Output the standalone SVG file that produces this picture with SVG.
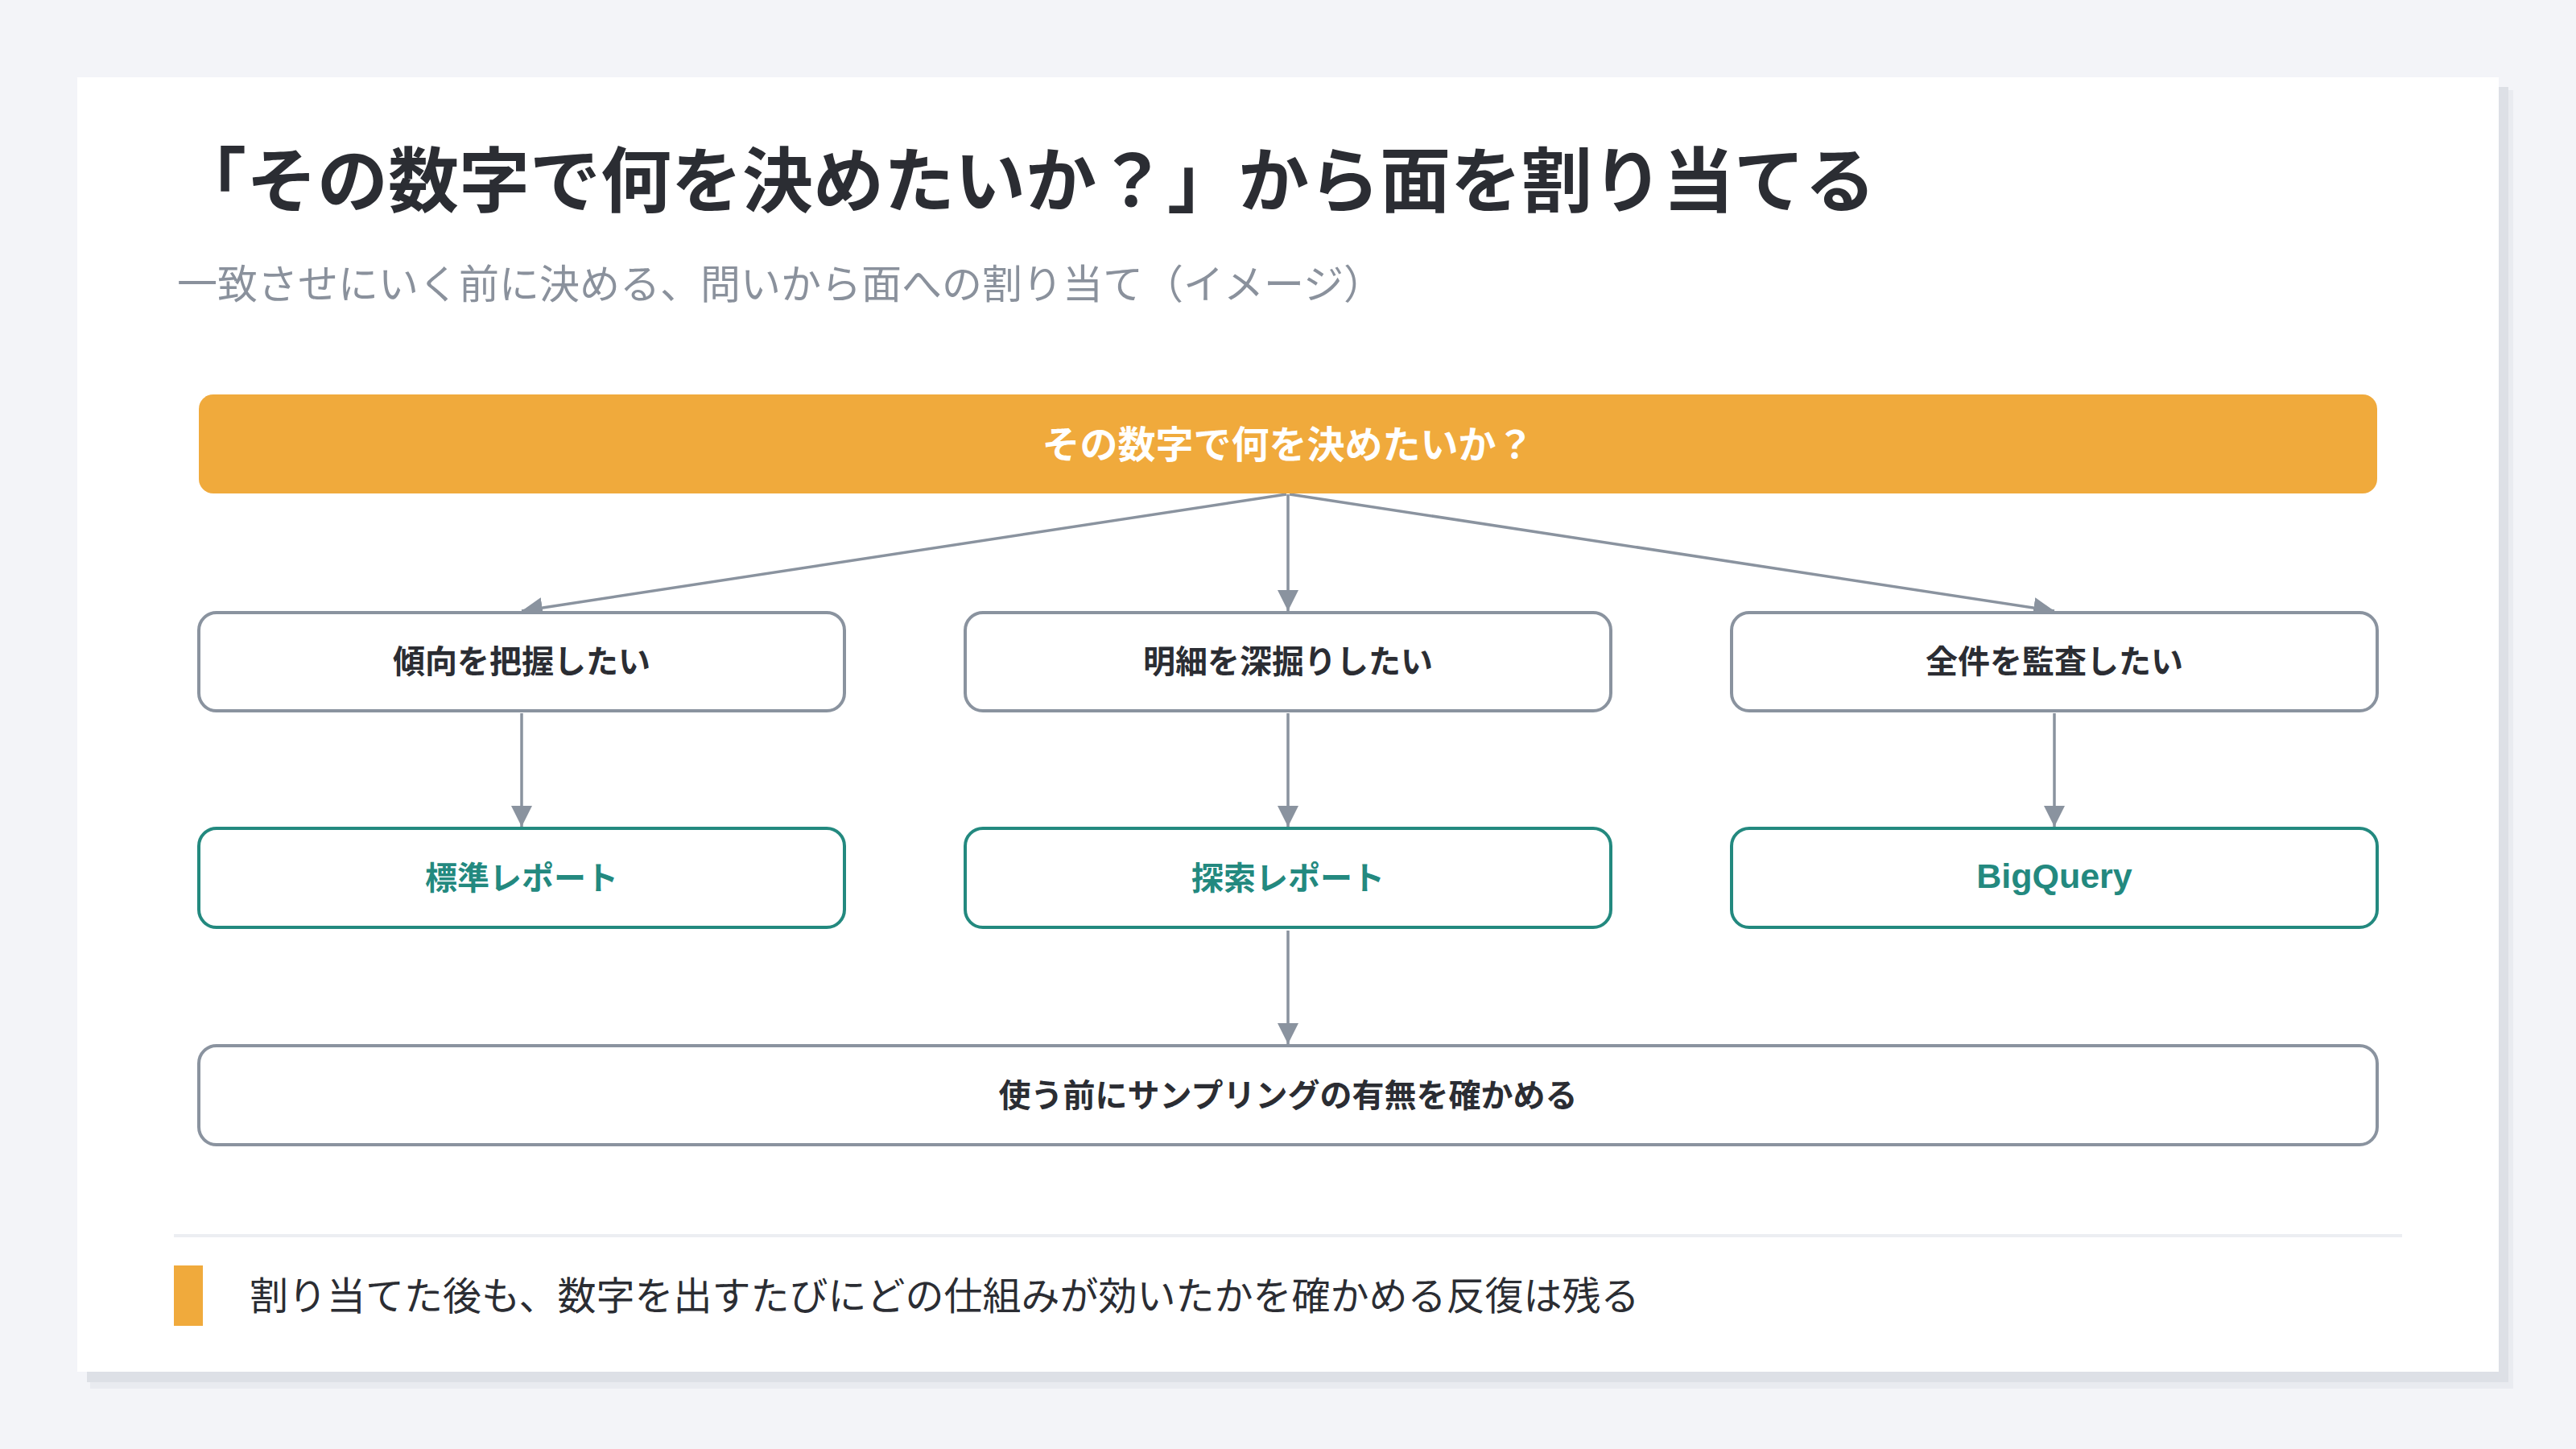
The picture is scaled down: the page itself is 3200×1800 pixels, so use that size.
<svg xmlns="http://www.w3.org/2000/svg" width="3200" height="1800" viewBox="0 0 3200 1800">
  <defs>
    <style>
      .t { font-family: "Liberation Sans", "Noto Sans CJK JP", sans-serif; }
      .node { fill: #ffffff; stroke: #8a939f; stroke-width: 4; }
      .surface { fill: #ffffff; stroke: #23897f; stroke-width: 4; }
      .lbl { font-size: 40px; font-weight: 700; fill: #2b2d33; text-anchor: middle; }
      .slbl { font-size: 40px; font-weight: 700; fill: #23897f; text-anchor: middle; }
      .edge { stroke: #8a939f; stroke-width: 3.5; fill: none; }
    </style>
    <marker id="arrow" markerUnits="userSpaceOnUse" markerWidth="26" markerHeight="26" viewBox="0 0 26 26" refX="26" refY="13" orient="auto">
      <path d="M0,0 L26,13 L0,26 Z" fill="#8a939f"/>
    </marker>
  </defs>

  <rect x="0" y="0" width="3200" height="1800" fill="#f3f4f8"/>

  <g id="card">
    <rect x="112" y="112" width="3010" height="1613" fill="#e9ebf0"/>
    <rect x="108" y="108" width="3008" height="1609" fill="#dde0e6"/>
    <rect x="96" y="96" width="3008" height="1608" fill="#ffffff"/>
  </g>

  <g id="header">
    <text class="t" x="218" y="256" font-size="88" font-weight="700" fill="#2b2d33">「その数字で何を決めたいか？」から面を割り当てる</text>
    <text class="t" x="220" y="371" font-size="50" fill="#8a919c">一致させにいく前に決める、問いから面への割り当て（イメージ）</text>
  </g>

  <g id="connectors">
    <line class="edge" x1="1598" y1="614" x2="648" y2="759" marker-end="url(#arrow)"/>
    <line class="edge" x1="1600" y1="614" x2="1600" y2="759" marker-end="url(#arrow)"/>
    <line class="edge" x1="1602" y1="614" x2="2552" y2="759" marker-end="url(#arrow)"/>
    <line class="edge" x1="648" y1="886" x2="648" y2="1027" marker-end="url(#arrow)"/>
    <line class="edge" x1="1600" y1="886" x2="1600" y2="1027" marker-end="url(#arrow)"/>
    <line class="edge" x1="2552" y1="886" x2="2552" y2="1027" marker-end="url(#arrow)"/>
    <line class="edge" x1="1600" y1="1156" x2="1600" y2="1297" marker-end="url(#arrow)"/>
  </g>

  <g id="question">
    <rect x="247" y="490" width="2706" height="123" rx="18" fill="#f0aa3c"/>
    <text class="t" x="1600" y="569" font-size="47" font-weight="700" fill="#ffffff" text-anchor="middle">その数字で何を決めたいか？</text>
  </g>

  <g id="need-trend">
    <rect class="node" x="247" y="761" width="802" height="122" rx="22"/>
    <text class="t lbl" x="648" y="836">傾向を把握したい</text>
  </g>
  <g id="need-detail">
    <rect class="node" x="1199" y="761" width="802" height="122" rx="22"/>
    <text class="t lbl" x="1600" y="836">明細を深掘りしたい</text>
  </g>
  <g id="need-audit">
    <rect class="node" x="2151" y="761" width="802" height="122" rx="22"/>
    <text class="t lbl" x="2552" y="836">全件を監査したい</text>
  </g>

  <g id="surface-standard">
    <rect class="surface" x="247" y="1029" width="802" height="123" rx="22"/>
    <text class="t slbl" x="648" y="1105">標準レポート</text>
  </g>
  <g id="surface-explore">
    <rect class="surface" x="1199" y="1029" width="802" height="123" rx="22"/>
    <text class="t slbl" x="1600" y="1105">探索レポート</text>
  </g>
  <g id="surface-bigquery">
    <rect class="surface" x="2151" y="1029" width="802" height="123" rx="22"/>
    <text class="t" x="2552" y="1103" font-size="43" font-weight="700" fill="#23897f" text-anchor="middle">BigQuery</text>
  </g>

  <g id="check-sampling">
    <rect class="node" x="247" y="1299" width="2706" height="123" rx="22"/>
    <text class="t lbl" x="1600" y="1375">使う前にサンプリングの有無を確かめる</text>
  </g>

  <g id="footer">
    <rect x="216" y="1533" width="2768" height="4" fill="#eceef2"/>
    <rect x="216" y="1572" width="36" height="75" fill="#f0aa3c"/>
    <text class="t" x="310" y="1627" font-size="48" fill="#2b2d33">割り当てた後も、数字を出すたびにどの仕組みが効いたかを確かめる反復は残る</text>
  </g>
</svg>
